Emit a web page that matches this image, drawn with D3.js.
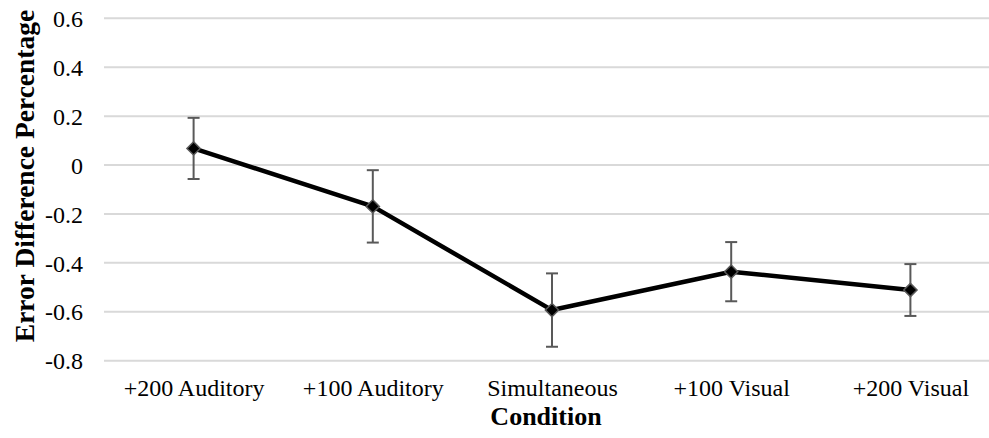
<!DOCTYPE html>
<html>
<head>
<meta charset="utf-8">
<script src="https://cdn.jsdelivr.net/npm/d3@7"></script>
<style>
  html, body { margin: 0; padding: 0; background: #fff; }
  svg { display: block; }
  svg text { font-family: "Liberation Serif", "Times New Roman", serif; fill: #000; }
</style>
</head>
<body>
<svg id="chart" width="989" height="438"></svg>
<script>
// Conditions along the x axis
const conditions = ["+200 Auditory", "+100 Auditory", "Simultaneous", "+100 Visual", "+200 Visual"];
// Mean error difference per condition
const meanValues = [0.068, -0.169, -0.593, -0.436, -0.511];
// Error bar half-widths
const errorValues = [0.125, 0.148, 0.150, 0.121, 0.106];
// Y axis ticks
const yTicks = [-0.8, -0.6, -0.4, -0.2, 0, 0.2, 0.4, 0.6];

const svg = d3.select("#chart");
const plot = { left: 104, right: 1000, top: 18.3, bottom: 360.7 };
const serif = "'Liberation Serif', 'Times New Roman', serif";

const x = d3.scalePoint()
  .domain(conditions)
  .range([plot.left, plot.right])
  .padding(0.5);

const y = d3.scaleLinear()
  .domain([-0.8, 0.6])
  .range([plot.bottom, plot.top]);

const tickFmt = d => d === 0 ? "0" : d3.format(".1f")(d).replace("−", "-");

// Horizontal gridlines
svg.append("g")
  .selectAll("line")
  .data(yTicks)
  .join("line")
  .attr("x1", plot.left)
  .attr("x2", plot.right)
  .attr("y1", d => y(d))
  .attr("y2", d => y(d))
  .attr("stroke", "#d9d9d9")
  .attr("stroke-width", 2);

// Y axis labels
const yAxis = svg.append("g")
  .attr("transform", `translate(${plot.left},0)`)
  .call(d3.axisLeft(y).tickValues(yTicks).tickFormat(tickFmt).tickSize(0).tickPadding(21));
yAxis.attr("font-family", serif).attr("font-size", 24);
yAxis.select(".domain").remove();
yAxis.selectAll("text")
  .style("font-family", serif)
  .style("font-size", "24px")
  .attr("fill", "#000")
  .attr("dy", "0.34em");

// X axis labels
const xAxis = svg.append("g")
  .attr("transform", `translate(0,${plot.bottom})`)
  .call(d3.axisBottom(x).tickSize(0).tickPadding(0));
xAxis.attr("font-family", serif).attr("font-size", 24);
xAxis.select(".domain").remove();
xAxis.selectAll("text")
  .style("font-family", serif)
  .style("font-size", "24px")
  .attr("fill", "#000")
  .attr("dy", null)
  .attr("y", 396.5 - plot.bottom);

// Error bars
const eb = svg.append("g")
  .selectAll("g")
  .data(conditions.map((c, i) => ({ c, m: meanValues[i], e: errorValues[i] })))
  .join("g")
  .attr("stroke", "#595959")
  .attr("stroke-width", 2);
eb.append("line")
  .attr("x1", d => x(d.c)).attr("x2", d => x(d.c))
  .attr("y1", d => y(d.m + d.e)).attr("y2", d => y(d.m - d.e));
eb.append("line")
  .attr("x1", d => x(d.c) - 6).attr("x2", d => x(d.c) + 6)
  .attr("y1", d => y(d.m + d.e)).attr("y2", d => y(d.m + d.e));
eb.append("line")
  .attr("x1", d => x(d.c) - 6).attr("x2", d => x(d.c) + 6)
  .attr("y1", d => y(d.m - d.e)).attr("y2", d => y(d.m - d.e));

// Mean line
const line = d3.line()
  .x((d, i) => x(conditions[i]))
  .y(d => y(d));
svg.append("path")
  .datum(meanValues)
  .attr("d", line)
  .attr("fill", "none")
  .attr("stroke", "#000")
  .attr("stroke-width", 4.5)
  .attr("stroke-linejoin", "round");

// Diamond markers
svg.append("g")
  .selectAll("path")
  .data(meanValues)
  .join("path")
  .attr("d", d3.symbol().type(d3.symbolSquare).size(88))
  .attr("transform", (d, i) => `translate(${x(conditions[i])},${y(d)}) rotate(45)`)
  .attr("fill", "#000")
  .attr("stroke", "#595959")
  .attr("stroke-width", 1.5);

// Axis titles
svg.append("text")
  .attr("x", (plot.left + plot.right) / 2 - 6)
  .attr("y", 425)
  .attr("text-anchor", "middle")
  .style("font-family", serif)
  .style("font-weight", "bold")
  .style("font-size", "26px")
  .text("Condition");

svg.append("text")
  .attr("transform", `translate(34,176) rotate(-90)`)
  .attr("text-anchor", "middle")
  .style("font-family", serif)
  .style("font-weight", "bold")
  .style("font-size", "27.5px")
  .text("Error Difference Percentage");
</script>
</body>
</html>
